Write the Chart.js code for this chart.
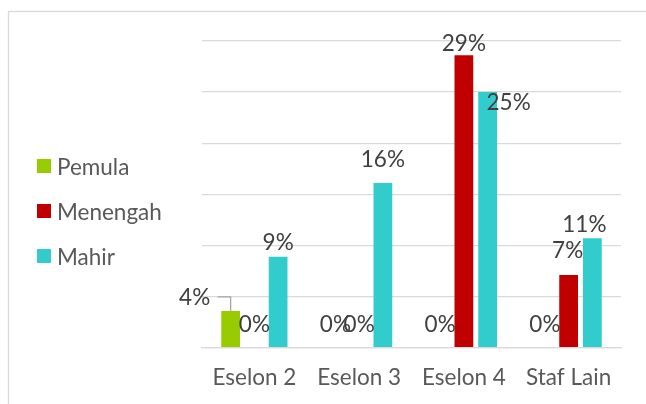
<!DOCTYPE html>
<html>
<head>
<meta charset="utf-8">
<script src="https://cdn.jsdelivr.net/npm/chart.js@4.4.1/dist/chart.umd.min.js"></script>
<style>
  html, body { margin: 0; padding: 0; background: #ffffff; }
  #wrap { width: 646px; height: 404px; position: relative; }
</style>
</head>
<body>
<div id="wrap"><canvas id="c" width="646" height="404"></canvas></div>
<script>
// ---- data ----
const categories = ['Eselon 2', 'Eselon 3', 'Eselon 4', 'Staf Lain'];
const seriesNames = ['Pemula', 'Menengah', 'Mahir'];
const pemula   = [3.6, 0, 0, 0];
const menengah = [0, 0, 28.6, 7.1];
const mahir    = [8.9, 16.1, 25.0, 10.7];
const yTicks   = [0, 5, 10, 15, 20, 25, 30];

// ---- styling ----
const colors = ['#99CC00', '#C00000', '#33CCCC'];
const FONT = 'Lato, "Open Sans", sans-serif';
const FS = 22.5;
// label offsets (dx, dy of label centre relative to bar top-centre)
const labelOffsets = [
  [[-36, -14], [0, -24.7], [0, -24.7], [0, -24.7]],
  [[0, -24.7], [0, -24.7], [0, -13.3], [-1, -26]],
  [[0, -15.4], [0, -24.5], [21, 9.1], [-8, -15.2]]
];
const leaderLines = [[true, false, false, false], [false, false, false, false], [false, false, false, false]];

const framePlugin = {
  id: 'frame',
  beforeDraw(chart) {
    const ctx = chart.ctx;
    ctx.save();
    ctx.fillStyle = '#ffffff';
    ctx.fillRect(0, 0, chart.width, chart.height);
    ctx.strokeStyle = '#d9d9d9';
    ctx.lineWidth = 1.3;
    ctx.strokeRect(8.5, 11.5, 800, 600);
    ctx.restore();
  }
};

const labelPlugin = {
  id: 'barLabels',
  afterDatasetsDraw(chart) {
    const ctx = chart.ctx;
    ctx.save();
    ctx.font = FS + 'px ' + FONT;
    const asc = ctx.measureText('0').actualBoundingBoxAscent;
    chart.data.datasets.forEach((ds, di) => {
      const meta = chart.getDatasetMeta(di);
      meta.data.forEach((bar, i) => {
        const v = ds.data[i];
        const off = labelOffsets[di][i];
        const cx = bar.x + off[0];
        const cy = bar.y + off[1];
        if (leaderLines[di][i]) {
          ctx.strokeStyle = '#a6a6a6';
          ctx.lineWidth = 1.3;
          ctx.beginPath();
          ctx.moveTo(bar.x - 13, cy);
          ctx.lineTo(bar.x, cy);
          ctx.lineTo(bar.x, bar.y);
          ctx.stroke();
        }
        ctx.fillStyle = '#404040';
        ctx.textAlign = 'center';
        ctx.textBaseline = 'alphabetic';
        ctx.fillText(Math.round(v) + '%', cx, cy + asc / 2);
      });
    });
    ctx.restore();
  }
};

const legendPlugin = {
  id: 'sideLegend',
  afterDraw(chart) {
    const ctx = chart.ctx;
    ctx.save();
    ctx.font = FS + 'px ' + FONT;
    const asc = ctx.measureText('M').actualBoundingBoxAscent;
    chart.data.datasets.forEach((ds, di) => {
      const cy = 166 + di * 45;
      ctx.fillStyle = ds.backgroundColor;
      ctx.fillRect(37, cy - 7, 14, 14);
      ctx.fillStyle = '#595959';
      ctx.textAlign = 'left';
      ctx.textBaseline = 'alphabetic';
      ctx.fillText(ds.label, 57, cy + asc / 2);
    });
    ctx.restore();
  }
};

const seriesData = [pemula, menengah, mahir];
new Chart(document.getElementById('c'), {
  type: 'bar',
  data: {
    labels: categories,
    datasets: seriesNames.map((n, i) => ({
      label: n,
      data: seriesData[i],
      backgroundColor: colors[i],
      borderWidth: 0,
      categoryPercentage: 0.68,
      barPercentage: 0.79
    }))
  },
  options: {
    responsive: false,
    animation: false,
    devicePixelRatio: 1,
    layout: { padding: { left: 202, right: 25, top: 41, bottom: 0 } },
    plugins: { legend: { display: false }, tooltip: { enabled: false } },
    scales: {
      x: {
        afterFit(scale) { scale.height = 56.3; },
        grid: { display: false, drawTicks: false },
        border: { display: true, color: '#d9d9d9', width: 1.3 },
        ticks: { color: '#595959', font: { family: FONT, size: FS }, padding: 17 }
      },
      y: {
        min: 0, max: 30,
        afterBuildTicks(scale) { scale.ticks = yTicks.map(v => ({ value: v })); },
        grid: { color: '#d9d9d9', lineWidth: 1.3, drawTicks: false },
        border: { display: false },
        ticks: { display: false }
      }
    }
  },
  plugins: [framePlugin, labelPlugin, legendPlugin]
});
</script>
</body>
</html>
